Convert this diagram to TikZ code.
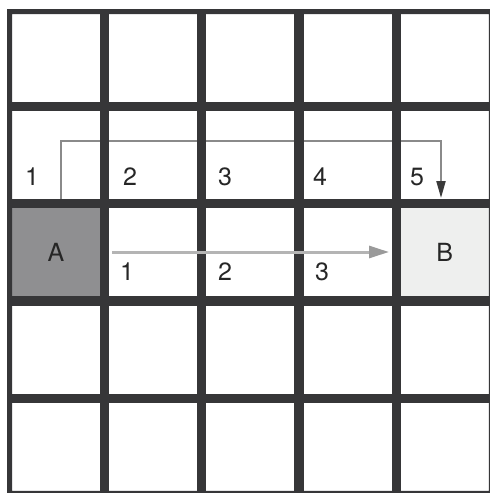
\documentclass[tikz,border=0pt]{standalone}
\usepackage{fontspec}
\setmainfont{TeX Gyre Heros}
\usetikzlibrary{arrows.meta}
\definecolor{gridc}{HTML}{363638}
\definecolor{cellA}{HTML}{8F8F91}
\definecolor{cellB}{HTML}{EEEFEE}
\definecolor{pathone}{HTML}{8A8A8A}
\definecolor{tipone}{HTML}{3A3A3A}
\definecolor{pathtwo}{HTML}{B4B4B4}
\definecolor{tiptwo}{HTML}{9A9A9A}
\begin{document}
\begin{tikzpicture}[x=1pt,y=-1pt,
  cell/.style={minimum size=88pt,inner sep=0pt,outer sep=0pt,fill=white},
  gridline/.style={draw=gridc,line width=9.2pt},
  lbl/.style={inner sep=0pt,font=\fontsize{25}{30}\selectfont,text=black!85},
  routeone/.style={draw=pathone,line width=2pt,-{Triangle[length=17pt,width=9pt,color=tipone]}},
  routetwo/.style={draw=pathtwo,line width=3pt,-{Triangle[length=20pt,width=12pt,color=tiptwo]}}]
\useasboundingbox (0,0) rectangle (490,493);
\fill[white] (7,9) rectangle (490,493);
\foreach \r in {1,...,5}{
  \foreach \c in {1,...,5}{
    \node[cell] (c\r\c) at ({56+97.2*(\c-1)},{58+97.2*(\r-1)}) {};
  }
}
\node[cell,fill=cellA] (A) at (c31) {};
\node[cell,fill=cellB] (B) at (c35) {};
% route one (beneath the grid lines)
\coordinate (r1a) at (61,199);
\coordinate (r1b) at (441,198);
\draw[routeone] (r1a) -- (61,141) -| (r1b);
% grid lines
\foreach \k in {1,...,4}{
  \draw[gridline] ({104.6+97.2*(\k-1)},9) -- ({104.6+97.2*(\k-1)},493);
  \draw[gridline] (7,{106.6+97.2*(\k-1)}) -- (490,{106.6+97.2*(\k-1)});
}
\fill[gridc,even odd rule] (7,9) rectangle (490,493) (12,14) rectangle (488.8,490.8);
% route two (over the grid lines)
\coordinate (r2a) at (112,252);
\coordinate (r2b) at (389,252);
\draw[routetwo] (r2a) -- (r2b);
% cell letters
\node[lbl] (Atext) at (A) {A};
\node[lbl] (Btext) at (B) {B};
% labels row 2
\node[lbl] (t1) at (32,177) {1};
\node[lbl] (t2) at (130,177) {2};
\node[lbl] (t3) at (225,177) {3};
\node[lbl] (t4) at (320,177) {4};
\node[lbl] (t5) at (417,177) {5};
% labels row 3
\node[lbl] (s1) at (127,272) {1};
\node[lbl] (s2) at (225,272) {2};
\node[lbl] (s3) at (322,272) {3};
\end{tikzpicture}
\end{document}
